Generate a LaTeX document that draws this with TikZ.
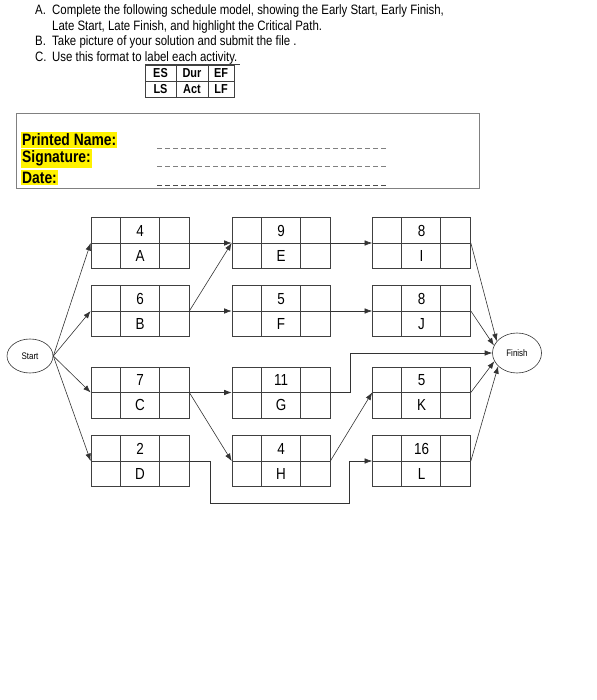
\documentclass[tikz,border=0pt]{standalone}
\usepackage{fontspec}
\setmainfont{Liberation Sans}[FakeStretch=0.84]
\usetikzlibrary{arrows.meta,shapes.geometric}

\tikzset{
  act/.style={draw=black!75, line width=0.7pt, minimum width=98pt, minimum height=51pt,
    inner sep=0pt, align=center, font=\fontsize{16}{25}\selectfont,
    path picture={
      \draw[black!75, line width=0.7pt]
        (path picture bounding box.west) -- (path picture bounding box.east)
        ([xshift=29pt]path picture bounding box.north west) -- ([xshift=29pt]path picture bounding box.south west)
        ([xshift=68pt]path picture bounding box.north west) -- ([xshift=68pt]path picture bounding box.south west);
    }},
  ev/.style={ellipse, draw=black!80, line width=0.6pt, inner sep=0pt, font=\fontsize{9.5}{10}\selectfont},
  link/.style={black!80, line width=0.6pt, -{Latex[length=7.5pt,width=5.5pt]}},
  instr/.style={anchor=base west, inner sep=0pt, font=\fontsize{13.6}{15}\selectfont},
  hl/.style={anchor=west, fill=yellow, inner xsep=1pt, inner ysep=2pt, font=\fontsize{16.5}{17}\selectfont\bfseries},
  blank/.style={gray, line width=0.7pt, dash pattern=on 5pt off 3pt},
}

\begin{document}
\begin{tikzpicture}[x=1pt,y=-1pt]
\useasboundingbox (0,0) rectangle (596,700);

% instructions
\node[instr] (la) at (35,15) {A.};
\node[instr] (ta) at (52,15) {Complete the following schedule model, showing the Early Start, Early Finish,};
\node[instr] (ta2) at (52,31) {Late Start, Late Finish, and highlight the Critical Path.};
\node[instr] (lb) at (35,46) {B.};
\node[instr] (tb) at (52,46) {Take picture of your solution and submit the file .};
\node[instr] (lc) at (35,62) {C.};
\node[instr] (tc) at (52,62) {Use this format to label each activity.};
\draw[black!75, line width=0.6pt] (145,64) -- (240,64);

% legend table
\draw[black!75, line width=0.7pt] (145,65) rectangle (234,97) (145,81) -- (234,81)
  (176,65) -- (176,97) (208,65) -- (208,97);
\begin{scope}[every node/.style={font=\fontsize{13}{14}\selectfont\bfseries, inner sep=0pt}]
\node (es) at (160.5,73) {ES};
\node (dur) at (192,73) {Dur};
\node (ef) at (221,73) {EF};
\node (ls) at (160.5,89) {LS};
\node (ac) at (192,89) {Act};
\node (lf) at (221,89) {LF};
\end{scope}

% name box
\draw[gray, line width=0.8pt] (16,113) rectangle (479,188);
\node[hl] (pn) at (21,140) {Printed Name:};
\node[hl] (sg) at (21,158.5) {Signature:};
\node[hl] (dt) at (21,177.5) {Date:};
\draw[blank] (157,148) -- (387,148);
\draw[blank] (157,166) -- (387,166);
\draw[blank, black!70] (157,185) -- (387,185);

% events
\node[ev, minimum width=46pt, minimum height=34pt] (start) at (30,356) {Start};
\node[ev, minimum width=49pt, minimum height=40pt] (finish) at (517,353) {Finish};

% activities
\node[act] (A) at (140,243) {4\\A};
\node[act] (B) at (140,311) {6\\B};
\node[act] (C) at (140,392.5) {7\\C};
\node[act] (D) at (140,461) {2\\D};
\node[act] (E) at (281,243) {9\\E};
\node[act] (F) at (281,311) {5\\F};
\node[act] (G) at (281,392.5) {11\\G};
\node[act] (H) at (281,461) {4\\H};
\node[act] (I) at (421.5,243) {8\\I};
\node[act] (J) at (421.5,311) {8\\J};
\node[act] (K) at (421.5,392.5) {5\\K};
\node[act] (L) at (421.5,461) {16\\L};

% links
\draw[link] (start.east) -- (A.west);
\draw[link] (start.east) -- (B.west);
\draw[link] (start.east) -- (C.west);
\draw[link] (start.east) -- (D.west);
\draw[link] (A.east) -- (E.west);
\draw[link] (B.east) -- (E.west);
\draw[link] (B.east) -- (F.west);
\draw[link] (C.east) -- (G.west);
\draw[link] (C.east) -- (H.west);
\draw[link] (D.east) -- ++(21,0) -- ++(0,42) -| ([xshift=-23pt]L.west) -- (L.west);
\draw[link] (E.east) -- (I.west);
\draw[link] (F.east) -- (J.west);
\draw[link] (G.east) -- ++(20,0) |- (finish.west);
\draw[link] (H.east) -- (K.west);
\draw[link] (I.east) -- (finish.150);
\draw[link] (J.east) -- (finish.162);
\draw[link] (K.east) -- (finish.200);
\draw[link] (L.east) -- (finish.215);
\end{tikzpicture}
\end{document}
